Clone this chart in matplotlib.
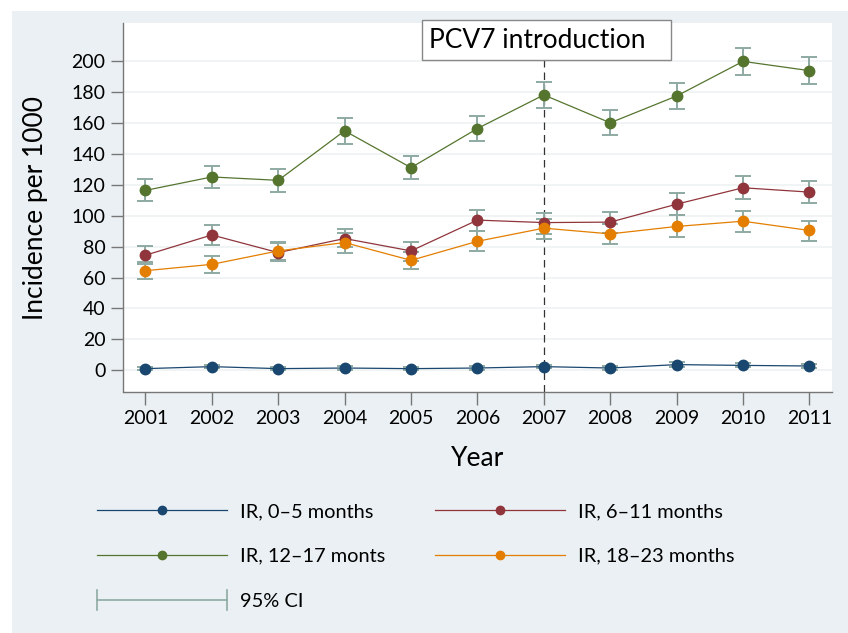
import numpy as np
import matplotlib
matplotlib.use("Agg")
import matplotlib.pyplot as plt
from matplotlib.lines import Line2D
from matplotlib.patches import Rectangle
from matplotlib.legend_handler import HandlerBase

plt.rcParams['font.family'] = ['Lato', 'DejaVu Sans']

years = np.arange(2001, 2012)

# incidence rate per 1000 and 95% CI
ir_0_5 = [1.1, 2.4, 1.1, 1.5, 1.1, 1.5, 2.4, 1.5, 3.7, 3.2, 2.8]
lo_0_5 = [0.2, 1.3, 0.2, 0.5, 0.2, 0.5, 1.2, 0.5, 2.3, 1.9, 1.6]
hi_0_5 = [2.0, 3.5, 2.0, 2.5, 2.0, 2.5, 3.6, 2.5, 5.1, 4.5, 4.0]

ir_6_11 = [74.4, 87.5, 76.1, 85.2, 77.2, 97.1, 95.5, 95.8, 107.4, 118.0, 115.2]
lo_6_11 = [69.0, 81.0, 70.7, 79.5, 70.7, 90.1, 88.4, 89.0, 100.3, 110.7, 108.1]
hi_6_11 = [80.2, 94.0, 83.2, 91.2, 83.0, 103.8, 102.0, 102.5, 114.4, 125.4, 122.4]

ir_12_17 = [116.3, 125.0, 122.8, 154.8, 131.0, 156.3, 178.0, 160.0, 177.3, 199.7, 193.7]
lo_12_17 = [109.2, 117.6, 115.4, 146.3, 123.4, 148.1, 169.3, 152.0, 168.6, 190.9, 184.8]
hi_12_17 = [123.4, 132.3, 129.9, 162.8, 138.3, 164.3, 186.6, 168.2, 185.7, 208.6, 202.6]

ir_18_23 = [64.4, 68.5, 77.2, 82.6, 71.1, 83.4, 91.9, 88.2, 93.0, 96.4, 90.4]
lo_18_23 = [58.8, 63.1, 71.1, 76.1, 65.3, 77.4, 85.2, 81.5, 86.5, 89.7, 83.9]
hi_18_23 = [69.8, 74.1, 82.4, 88.6, 76.5, 90.1, 97.9, 94.5, 100.3, 102.9, 96.8]

labels = ['IR, 0\u20135 months', 'IR, 6\u201311 months',
          'IR, 12\u201317 monts', 'IR, 18\u201323 months']
colors = ['#1a476f', '#90353b', '#55752f', '#e37e00']
ci_color = '#8eaaa2'
bg = '#eaf0f3'

W, H = 848, 633
fig = plt.figure(figsize=(W / 100, H / 100), dpi=100, facecolor='white')
fig.patches.append(Rectangle((12 / W, 0), 1 - 12 / W, 1 - 11 / H,
                             transform=fig.transFigure, facecolor=bg,
                             edgecolor='none', zorder=-10))

ax = fig.add_axes([123.5 / W, 1 - 392 / H, (832 - 123.5) / W, (392 - 23) / H])
ax.set_facecolor('white')

series = [(ir_0_5, lo_0_5, hi_0_5), (ir_6_11, lo_6_11, hi_6_11),
          (ir_12_17, lo_12_17, hi_12_17), (ir_18_23, lo_18_23, hi_18_23)]

for (ir, lo, hi), col in zip(series, colors):
    ir, lo, hi = np.array(ir), np.array(lo), np.array(hi)
    ax.errorbar(years, ir, yerr=[ir - lo, hi - ir], fmt='none',
                ecolor=ci_color, elinewidth=1.4, capsize=6, capthick=1.4, zorder=2)
for (ir, lo, hi), col in zip(series, colors):
    ax.plot(years, ir, color=col, lw=0.9, marker='o', ms=7.5, zorder=3)

ax.axvline(2007, ymin=0, ymax=1, color='#333333', lw=0.9, dashes=(6, 4), zorder=1)

ax.set_xlim(2000.67, 2011.34)
ax.set_ylim(-14, 224.5)
ax.set_yticks(np.arange(0, 201, 20))
ax.set_xticks(years)
ax.grid(axis='y', color='#eef2f3', lw=1.2)
ax.set_axisbelow(True)
for s in ['top', 'right']:
    ax.spines[s].set_visible(False)
for s in ['left', 'bottom']:
    ax.spines[s].set_color('#777777')
    ax.spines[s].set_linewidth(1.0)
ax.tick_params(axis='both', length=9, width=1, color='#777777',
               labelsize=14, pad=4)
ax.set_ylabel('Incidence per 1000', fontsize=19, labelpad=17)
ax.set_xlabel('Year', fontsize=19, labelpad=14)

# annotation box with fixed width, text left-aligned inside
fig.patches.append(Rectangle((422 / W, 1 - 60 / H), 249 / W, 40 / H,
                             transform=fig.transFigure, facecolor='white',
                             edgecolor='#888888', lw=1, zorder=5))
fig.text(429 / W, 1 - 40 / H, 'PCV7 introduction', fontsize=19,
         va='center', ha='left', zorder=6)


class HandlerCI(HandlerBase):
    def create_artists(self, legend, orig_handle, xdescent, ydescent,
                       width, height, fontsize, trans):
        y = height / 2 - ydescent
        h = fontsize * 0.5
        line = Line2D([-xdescent, width - xdescent], [y, y], color=ci_color, lw=1.2)
        c1 = Line2D([-xdescent, -xdescent], [y - h, y + h], color=ci_color, lw=1.2)
        c2 = Line2D([width - xdescent, width - xdescent], [y - h, y + h], color=ci_color, lw=1.2)
        for a in (line, c1, c2):
            a.set_transform(trans)
        return [line, c1, c2]


handles = [Line2D([], [], color=c, lw=0.9, marker='o', ms=6) for c in colors]
ci_handle = Line2D([], [], color=ci_color)
# column-major fill: blue, green, CI | red, orange
order = [0, 2, 4, 1, 3]
all_h = handles + [ci_handle]
all_l = labels + ['95% CI']
leg = fig.legend([all_h[i] for i in order], [all_l[i] for i in order],
                 loc='upper left', bbox_to_anchor=(97 / W, 1 - 503 / H),
                 ncol=2, frameon=False, fontsize=14.4, numpoints=1,
                 handlelength=6.5, handletextpad=0.65, columnspacing=2.5,
                 labelspacing=1.39, borderpad=0, borderaxespad=0,
                 handler_map={ci_handle: HandlerCI()})

fig.savefig('out.png', dpi=100, facecolor='white')
